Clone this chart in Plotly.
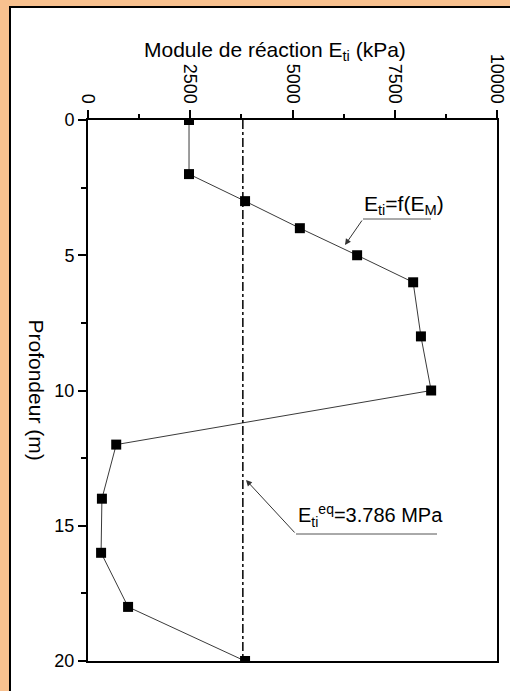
import plotly.graph_objects as go

# Data
depth_m = [0, 2, 3, 4, 5, 6, 8, 10, 12, 14, 16, 18, 20]
E_ti_kPa = [2470, 2470, 3840, 5180, 6580, 7950, 8140, 8390, 690, 340, 320, 980, 3840]
E_eq_kPa = 3786
x_ticks = [0, 2500, 5000, 7500, 10000]
x_tick_labels = ["0", "2500", "5000", "7500", "10000"]
y_ticks = [0, 5, 10, 15, 20]

FONT = "Liberation Sans, Arial, sans-serif"
ORANGE = "#F8C18F"

W, H = 510, 691
L, R, T, B = 88, 13, 120, 30
pw, ph = W - L - R, H - T - B


def px2paper(px, py):
    return (px - L) / pw, (H - B - py) / ph


def px2data(px, py):
    return (px - L) / pw * 10000, (py - T) / ph * 20


fig = go.Figure()

fig.add_trace(go.Scatter(
    x=E_ti_kPa, y=depth_m, mode="lines+markers",
    line=dict(color="#3a3a3a", width=1),
    marker=dict(symbol="square", size=10, color="black"),
    showlegend=False, hoverinfo="skip"))

fig.add_trace(go.Scatter(
    x=[E_eq_kPa, E_eq_kPa], y=[0, 20], mode="lines",
    line=dict(color="black", width=1.5, dash="dashdot"),
    showlegend=False, hoverinfo="skip"))

shapes = []
# white inner panel with black border
x0, y0 = px2paper(10, 7)
x1, y1 = px2paper(530, 720)
shapes.append(dict(type="rect", xref="paper", yref="paper", x0=x0, y0=y1, x1=x1, y1=y0,
                   fillcolor="white", line=dict(color="black", width=2), layer="below"))

# annotation underlines
ua, va = px2data(363, 219)
ub, _ = px2data(431, 219)
shapes.append(dict(type="line", xref="x", yref="y", x0=ua, y0=va, x1=ub, y1=va,
                   line=dict(color="#555", width=1)))
uc, vc = px2data(296, 534)
ud, _ = px2data(437, 534)
shapes.append(dict(type="line", xref="x", yref="y", x0=uc, y0=vc, x1=ud, y1=vc,
                   line=dict(color="#555", width=1)))

annotations = []
# arrows
tx, ty = px2data(345, 245)
annotations.append(dict(x=tx, y=ty, ax=ua, ay=va, xref="x", yref="y", axref="x", ayref="y",
                        text="", showarrow=True, arrowhead=2, arrowsize=1.2, arrowwidth=1,
                        arrowcolor="#333"))
tx2, ty2 = px2data(246, 480)
annotations.append(dict(x=tx2, y=ty2, ax=uc, ay=vc, xref="x", yref="y", axref="x", ayref="y",
                        text="", showarrow=True, arrowhead=2, arrowsize=1.2, arrowwidth=1,
                        arrowcolor="#333"))
# labels
lx, ly = px2data(404, 205)
annotations.append(dict(x=lx, y=ly, xref="x", yref="y", showarrow=False,
                        text="E<sub>ti</sub>=f(E<sub>M</sub>)",
                        font=dict(family=FONT, size=21, color="black")))
lx2, ly2 = px2data(370, 515)
annotations.append(dict(x=lx2, y=ly2, xref="x", yref="y", showarrow=False,
                        text="E<sub>ti</sub><sup>eq</sup>=3.786 MPa",
                        font=dict(family=FONT, size=20, color="black")))
# axis titles
ax_, ay_ = px2paper(275, 36)
annotations.append(dict(x=ax_, y=ay_, xref="paper", yref="paper", showarrow=False,
                        text="Module de réaction E<sub>ti</sub> (kPa)",
                        font=dict(family=FONT, size=21, color="black")))
bx, by = px2paper(23, 390)
annotations.append(dict(x=bx, y=by, xref="paper", yref="paper", showarrow=False,
                        text="Profondeur (m)", textangle=90,
                        font=dict(family=FONT, size=21, color="black")))

fig.update_layout(
    width=W, height=H,
    margin=dict(l=L, r=R, t=T, b=B, autoexpand=False),
    paper_bgcolor=ORANGE, plot_bgcolor="white",
    shapes=shapes, annotations=annotations,
    font=dict(family=FONT, size=18, color="black"),
    xaxis=dict(side="top", range=[0, 10000], tickvals=x_ticks, ticktext=x_tick_labels,
               tickangle=90,
               ticks="outside", ticklen=8, tickwidth=1.5, tickcolor="black",
               minor=dict(dtick=1250, ticks="outside", ticklen=4, tickwidth=1.5, tickcolor="black"),
               showline=True, linecolor="black", linewidth=2, mirror=True,
               showgrid=False, zeroline=False, automargin=False,
               tickfont=dict(family=FONT, size=18, color="black")),
    yaxis=dict(range=[20, 0], tickvals=y_ticks,
               ticks="outside", ticklen=8, tickwidth=1.5, tickcolor="black",
               minor=dict(dtick=2.5, ticks="outside", ticklen=5, tickwidth=1.5, tickcolor="black"),
               showline=True, linecolor="black", linewidth=2, mirror=True,
               showgrid=False, zeroline=False, automargin=False,
               tickfont=dict(family=FONT, size=18, color="black")),
)

fig.write_html("out.html", config={"displayModeBar": False},
               post_script="document.body.style.margin='0';document.body.style.overflow='hidden';")
